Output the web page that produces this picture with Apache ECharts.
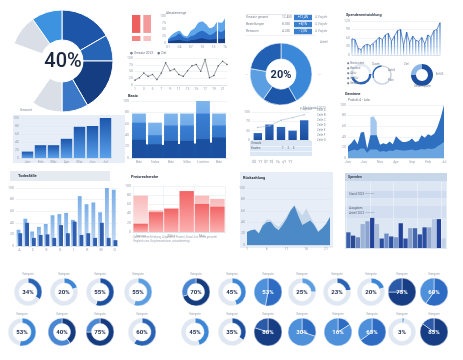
<!DOCTYPE html>
<html>
<head>
<meta charset="utf-8">
<script src="https://cdn.jsdelivr.net/npm/echarts@6/dist/echarts.min.js"></script>
<style>
  html, body { margin: 0; padding: 0; background: #fff; }
  #chart { width: 463px; height: 360px; }
</style>
</head>
<body>
<div id="chart"></div>
<script>
const FONT = 'Roboto, "Noto Sans", "DejaVu Sans", sans-serif';

// Big donut: slice sizes clockwise from 12 o'clock (6th slice is the empty gap)
const bigDonutParts = [60, 30, 60, 30, 35, 75, 35, 35];
const bigDonutText = '40%';

// Red tiles
const tileNames = ['✓', '4', ' ', '  '];
const tileValues = [34, 36, 13, 14];

// Small area chart, top middle
const areaTopCats = ['01', '02', '03', '04', '05', '06', '07', '08', '09', '10', '11', '12', '13', '14', '15', '16'];
const areaTopBack = [15, 30, 40, 45, 30, 25, 45, 55, 75, 80, 70, 55, 60, 78, 75, 92];
const areaTopMid = [10, 20, 25, 35, 22, 18, 25, 30, 40, 45, 38, 30, 35, 45, 40, 50];
const areaTopFront = [5, 8, 10, 12, 8, 6, 10, 12, 15, 18, 14, 12, 14, 16, 15, 18];

// Zigzag line chart
const lineCats = ['1', '2', '3', '4', '5', '6', '7', '8', '9', '10', '11', '12', '13', '14', '15', '16', '17', '18', '19', '20', '21', '22'];
const lineValues = [18, 27, 44, 32, 39, 20, 44, 82, 53, 59, 39, 32, 53, 71, 76, 51, 94, 27, 35, 71, 88, 76];

// "Basic" layered bars
const basicCats = ['Bdc', 'Sidcs', 'Bdc', 'Silbc', 'Linclerc', 'Bdc'];
const basicLight = [78, 62, 78, 78, 100, 78];
const basicMid = [62, 40, 57, 57, 78, 57];
const basicDark = [32, 24, 30, 30, 33, 36];
const basicFloor = [26, 22, 24, 25, 26, 28];

// Small table with badges
const tableRows = ['Umsatz gesamt', 'Bestellungen', 'Retouren'];
const tableBadge = [100, 100, 100];
const tableBadgeText = ['+12,4%', '+8,1%', '−2,3%'];

// Donut 20%
const donut20Parts = [150, 65, 65, 80];
const donut20Text = '20%';

// Bars + trend line
const finCats = ['Q1', 'Q2', 'Q3', 'Q4', 'Q5'];
const finBars = [26, 58, 49, 35, 74];
const finLine = [47, 53, 74, 84, 95];

// Spiky line, top right
const spikeCats = ['1', '2', '3', '4', '5', '6', '7', '8', '9', '10', '11', '12', '13', '14', '15', '16', '17', '18', '19', '20', '21', '22', '23', '24', '25', '26', '27', '28', '29', '30'];
const spikeValues = [57, 54, 24, 19, 33, 38, 33, 41, 52, 62, 54, 71, 76, 48, 67, 86, 90, 33, 81, 43, 67, 52, 48, 62, 38, 71, 62, 86, 90, 114];

// Three ring gauges
const gaugeValues = [45, 30, 75];

// Growth area chart, right
const growthCats = ['Jan', 'Feb', 'Mär', 'Apr', 'Mai', 'Jun', 'Jul', 'Aug', 'Sep', 'Okt', 'Nov', 'Dez', 'Jan', 'Feb', 'Mär', 'Apr', 'Mai', 'Jun', 'Jul', 'Aug', 'Sep', 'Okt', 'Nov', 'Dez', 'Jan', 'Feb', 'Mär', 'Apr', 'Mai', 'Jun', 'Jul'];
const growthDark = [22, 28, 36, 26, 48, 49, 18, 43, 43, 43, 25, 28, 26, 31, 26, 41, 35, 30, 30, 32, 37, 30, 32, 43, 38, 45, 42, 46, 59, 77, 100];
const growthSpike = [null, null, null, null, null, null, null, 77, 79, 68, null, null, null, null, null, null, null, null, null, null, null, null, null, null, null, null, null, null, null, null, null];
const growthBase = [12, 14, 16, 14, 18, 18, 10, 16, 16, 16, 12, 13, 12, 14, 13, 16, 15, 14, 14, 15, 16, 14, 15, 17, 16, 18, 17, 18, 22, 26, 30];

// Rising bars
const growCats = ['Jan', 'Feb', 'Mär', 'Apr', 'Mai', 'Jun', 'Jul'];
const growBars = [16, 32, 32, 48, 78, 80, 100];

// Mixed bars
const mixCats = ['A', 'B', 'C', 'D', 'E', 'F', 'G', 'H', 'I', 'J', 'K', 'L', 'M', 'N', 'O'];
const mixBack = [28, 47, 25, 33, 38, 53, 55, 57, 45, 86, 72, 75, 58, 100, 97];
const mixFront = [22, 40, 14, 19, 20, 14, 36, 22, 42, 19, 22, 14, 40, 14, 10];

// Red bars
const redCats = ['Januar', 'Februar', 'März', 'April', 'Mai', 'Juni'];
const redBars = [18, 43, 51, 89, 61, 55];
const redBack = [79, 47, 0, 0, 79, 72];

// Area chart on pale panel
const mCats = ['1', '2', '3', '4', '5', '6', '7', '8', '9', '10', '11', '12', '13', '14', '15', '16', '17', '18', '19', '20', '21', '22'];
const mDark = [23, 26, 27, 20, 34, 40, 41, 31, 26, 35, 46, 60, 69, 51, 35, 39, 43, 35, 23, 29, 37, 49];
const mLight = [23, 26, 27, 22, 36, 45, 44, 36, 32, 40, 50, 62, 70, 60, 52, 64, 50, 38, 25, 30, 38, 50];

// Bars on banded panel
const nCats = ['1', '2', '3', '4', '5', '6', '7', '8', '9', '10', '11', '12', '13', '14', '15', '16', '17', '18', '19', '20', '21'];
const nValues = [38, 30, 26, 58, 65, 73, 58, 23, 35, 28, 26, 60, 23, 48, 48, 33, 50, 50, 70, 70, 23];

// Bottom donut rows
const donutRow1 = [34, 20, 55, 55, 70, 45, 53, 25, 23, 20, 75, 60];
const donutRow2 = [53, 40, 75, 60, 45, 35, 80, 30, 16, 65, 3, 85];

// ---------------------------------------------------------------
const chart = echarts.init(document.getElementById('chart'));
const grids = [], xAxis = [], yAxis = [], series = [], graphics = [];

const tiny = { fontSize: 3.5, color: '#98a1b0', margin: 2, fontFamily: FONT };

function cat(data, o) {
    return Object.assign({
        type: 'category', data: data,
        axisTick: { show: false },
        axisLine: { lineStyle: { color: '#cfd6e0', width: 0.6 } },
        axisLabel: tiny
    }, o || {});
}

function val(o) {
    return Object.assign({
        type: 'value',
        axisLabel: tiny,
        axisLine: { show: false },
        axisTick: { show: false },
        splitLine: { lineStyle: { color: '#e3e8ef', width: 0.5 } }
    }, o || {});
}

function addGrid(box, x, y) {
    const i = grids.length;
    grids.push(Object.assign({ containLabel: false, outerBoundsMode: 'none' }, box));
    xAxis.push(Object.assign({ gridIndex: i }, x));
    yAxis.push(Object.assign({ gridIndex: i }, y));
    return i;
}

function txt(x, y, s, size, color, weight, align) {
    graphics.push({
        type: 'text', x: x, y: y, z: 100, silent: true,
        style: {
            text: s, fill: color || '#7d8695',
            font: (weight || 'normal') + ' ' + size + 'px ' + FONT,
            textAlign: align || 'left', textVerticalAlign: 'middle', verticalAlign: 'middle'
        }
    });
}

function rect(x, y, w, h, color) {
    graphics.push({ type: 'rect', x: x, y: y, z: -10, silent: true, shape: { width: w, height: h }, style: { fill: color } });
}

function vgrad(top, bottom) {
    return { type: 'linear', x: 0, y: 0, x2: 0, y2: 1, colorStops: [{ offset: 0, color: top }, { offset: 1, color: bottom }] };
}

function ring(center, radius, parts, colors, startAngle, border) {
    series.push({
        type: 'pie', center: center, radius: radius, startAngle: startAngle, silent: true,
        label: { show: false }, labelLine: { show: false },
        itemStyle: { borderColor: '#fff', borderWidth: border || 0 },
        data: parts.map((v, i) => ({ value: v, itemStyle: { color: colors[i] } }))
    });
}

// ---- big donut
ring([62, 61], [21, 51], bigDonutParts,
    ['#1d55a8', '#2664b6', '#153d82', '#3b78c8', '#d9dee7', 'rgba(0,0,0,0)', '#d9dee7', '#3d93e0'], 90, 1);
txt(63, 62, bigDonutText, 20, '#1b2740', '500', 'center');
txt(20, 110, 'Gesamt', 3.5, '#8a93a2');

// ---- red tiles
series.push({
    type: 'treemap', left: 130, top: 13, width: 23, height: 30, roam: false, nodeClick: false, silent: true,
    breadcrumb: { show: false },
    itemStyle: { borderColor: '#fff', borderWidth: 1, gapWidth: 1 },
    label: { show: true, color: '#fff', fontSize: 7, fontWeight: 'bold', formatter: '{b}' },
    data: tileValues.map((v, i) => ({ name: tileNames[i], value: v, itemStyle: { color: ['#f49a9a', '#ee5f5f', '#f8c2c2', '#f38484'][i] } }))
});

// ---- small area chart top middle
let g = addGrid({ left: 168, top: 16, width: 57, height: 27 },
    cat(areaTopCats, { boundaryGap: false, axisLabel: Object.assign({}, tiny, { interval: 2 }) }),
    val({ max: 100, interval: 25, splitLine: { show: false } }));
[[areaTopBack, '#5ea5ea'], [areaTopMid, '#2b6cc4'], [areaTopFront, '#163f88']].forEach(([d, c], k) => {
    series.push({
        type: 'line', xAxisIndex: g, yAxisIndex: g, data: d, showSymbol: false, smooth: 0.3, silent: true,
        lineStyle: { width: 0 }, areaStyle: { color: c, opacity: 1 },
        markLine: k === 0 ? { silent: true, symbol: 'none', label: { show: false }, lineStyle: { color: '#fff', width: 1.2, type: 'solid' }, data: [{ xAxis: 13 }] } : undefined
    });
});
txt(166, 13, 'Absatzmenge', 3.3, '#6f7888');

// ---- zigzag line
g = addGrid({ left: 135, top: 58, width: 92, height: 27 },
    cat(lineCats, { boundaryGap: false }),
    val({ max: 100, interval: 25 }));
series.push({
    type: 'line', xAxisIndex: g, yAxisIndex: g, data: lineValues, silent: true,
    symbol: 'circle', symbolSize: 1.6, lineStyle: { color: '#5a606b', width: 0.6 }, itemStyle: { color: '#5a606b' }
});
txt(130, 53, '● Umsatz 2023     ● Ziel', 3.3, '#6f7888');

// ---- "Basic" bars
g = addGrid({ left: 131, top: 101, width: 96, height: 57 },
    cat(basicCats),
    val({ max: 100, interval: 20 }));
series.push({
    type: 'line', xAxisIndex: g, yAxisIndex: g, data: basicFloor, showSymbol: false, silent: true, z: 1,
    lineStyle: { width: 0 }, areaStyle: { color: '#1d52a2', opacity: 1 }
});
[[basicLight, vgrad('#7db4ec', '#4f8fda')], [basicMid, vgrad('#3a7fd2', '#2a66b8')], [basicDark, '#1b4f9f']].forEach(([d, c]) => {
    series.push({ type: 'bar', xAxisIndex: g, yAxisIndex: g, data: d, barGap: '-100%', barCategoryGap: '14%', silent: true, itemStyle: { color: c } });
});
txt(128, 96, 'Basic', 4, '#2d3442', 'bold');

// ---- table with badges
g = addGrid({ left: 294, top: 14, width: 18, height: 21 },
    val({ max: 100, show: false }),
    cat(tableRows, { inverse: true, show: false }));
series.push({
    type: 'bar', xAxisIndex: g, yAxisIndex: g, data: tableBadge, barCategoryGap: '22%', silent: true,
    itemStyle: { color: '#3a7ed0' },
    label: { show: true, position: 'inside', color: '#fff', fontSize: 3.2, fontFamily: FONT, formatter: p => tableBadgeText[p.dataIndex] }
});
tableRows.forEach((r, i) => {
    txt(246, 17.5 + i * 7, r, 3.2, '#7d8695');
    txt(282, 17.5 + i * 7, (12450 - i * 4100).toLocaleString('de-DE'), 3.2, '#7d8695');
    txt(315, 17.5 + i * 7, 'Δ Vorjahr', 3, '#8f97a5');
});
rect(246, 14.5, 46, 0.5, '#c7cfda');
rect(246, 35, 70, 0.5, '#dfe4ea');

// ---- donut 20%
ring([281, 74], [15, 31], donut20Parts, ['#3c88d8', '#1d57aa', '#5b9fe2', '#2260b4'], 90, 0.6);
txt(281, 75, donut20Text, 11, '#1b2d52', 'bold', 'center');
txt(245, 75, '—', 4, '#b0b8c4');
txt(318, 75, '—', 4, '#b0b8c4');
txt(303, 108, 'Marktanteil 2023', 3, '#8a93a2');
txt(320, 42, 'Anteil', 3, '#8a93a2');

// ---- bars + trend line
g = addGrid({ left: 252, top: 112, width: 58, height: 28 },
    cat(finCats, { axisLabel: { show: false } }),
    val({ max: 105, interval: 35 }));
series.push({ type: 'bar', xAxisIndex: g, yAxisIndex: g, data: finBars, barWidth: '72%', silent: true, itemStyle: { color: vgrad('#2d67bc', '#1b4d9d') } });
series.push({
    type: 'line', xAxisIndex: g, yAxisIndex: g, data: finLine, silent: true, symbol: 'circle', symbolSize: 1.4,
    lineStyle: { color: '#a9b8cc', width: 0.6 }, itemStyle: { color: '#a9b8cc' }
});
rect(250, 141, 62, 15, '#dbe7f5');
rect(250, 146, 62, 0.5, '#ffffff');
rect(250, 151, 62, 0.5, '#ffffff');
txt(251, 143.5, 'Umsatz', 3, '#5d6675');
txt(251, 148.5, 'Kosten', 3, '#5d6675');
txt(282, 148.5, '1     2     3', 3, '#5d6675');
txt(252, 162, '$$   ¥¥  $¥  ¥$   ¥¢   ¢¥   ¥¥', 3.5, '#8b94a3');
['Zeile A', 'Zeile B', 'Zeile C', 'Zeile D', 'Zeile E', 'Zeile F', 'Zeile G'].forEach((s, i) => txt(317, 110 + i * 5, s, 2.8, '#8a93a2'));
txt(300, 109, 'Prognose ————', 2.8, '#8a93a2');

// ---- spiky line top right
g = addGrid({ left: 352, top: 21, width: 88, height: 34 },
    cat(spikeCats, { boundaryGap: false, axisLabel: { show: false } }),
    val({ max: 120, interval: 30 }));
series.push({ type: 'bar', xAxisIndex: g, yAxisIndex: g, data: spikeValues, barWidth: 1.2, silent: true, itemStyle: { color: vgrad('#3b76c6', '#d6e4f5') } });
series.push({ type: 'line', xAxisIndex: g, yAxisIndex: g, data: spikeValues, showSymbol: false, silent: true, lineStyle: { color: '#2b5fae', width: 0.7 } });
txt(346, 15, 'Spendenentwicklung', 3.8, '#3a4352', 'bold');

// ---- three gauges
ring([361, 74], [8, 10.5], [gaugeValues[0], 100 - gaugeValues[0]], ['#2a63b3', '#e3e9f2'], 0);
ring([382, 75], [8.3, 9.8], [gaugeValues[1], 100 - gaugeValues[1]], ['#2a63b3', '#c9d3e1'], 200);
ring([422, 75], [6, 11], [gaugeValues[2], 100 - gaugeValues[2]], ['#1c4f9f', '#8db5e6'], 90);
['● Neukunden', '● Bestand', '● Aktiv', '● Inaktiv', '● Gesamt'].forEach((s, i) => txt(347, 63 + i * 5, s, 2.8, '#7d8695'));
txt(372, 64, 'Quote', 2.8, '#7d8695');
txt(388, 70, 'Anteil', 2.8, '#7d8695');
txt(388, 80, 'Plan', 2.8, '#7d8695');
txt(404, 64, 'Ziel', 2.8, '#7d8695');
txt(436, 74, 'Erfüllt', 2.8, '#7d8695');
txt(414, 86, 'Gesamtquote', 2.8, '#7d8695');

// ---- growth area chart right
g = addGrid({ left: 348, top: 105, width: 96, height: 53 },
    cat(growthCats, { boundaryGap: false, axisLabel: Object.assign({}, tiny, { interval: 4 }) }),
    val({ max: 100, interval: 20 }));
[[growthSpike, '#a4c7ee'], [growthDark, '#2e6fc0'], [growthBase, '#6aa5e0']].forEach(([d, c]) => {
    series.push({
        type: 'line', xAxisIndex: g, yAxisIndex: g, data: d, showSymbol: false, silent: true,
        lineStyle: { width: 0 }, areaStyle: { color: c, opacity: 1 }
    });
});
txt(345, 94, 'Gewinne', 4, '#2d3442', 'bold');
txt(348, 100, 'Produkt A • Lohn', 3, '#6f7888');

// ---- rising bars
rect(13, 115, 112, 48, '#e7eef8');
g = addGrid({ left: 21, top: 118, width: 91, height: 40 },
    cat(growCats),
    val({ max: 100, interval: 20 }));
series.push({ type: 'bar', xAxisIndex: g, yAxisIndex: g, data: growBars, barCategoryGap: '12%', silent: true, itemStyle: { color: vgrad('#1c56ac', '#5aa0ea') } });

// ---- mixed bars
rect(10, 171, 100, 10, '#e6ebf2');
txt(18, 176, 'Todesfälle', 4, '#2d3442', 'bold');
g = addGrid({ left: 16, top: 188, width: 102, height: 58 },
    cat(mixCats),
    val({ max: 100, interval: 20 }));
series.push({ type: 'bar', xAxisIndex: g, yAxisIndex: g, data: mixBack, barGap: '-55%', barCategoryGap: '18%', silent: true, itemStyle: { color: vgrad('#7aaee8', '#c6dbf4') } });
series.push({ type: 'bar', xAxisIndex: g, yAxisIndex: g, data: mixFront, silent: true, itemStyle: { color: '#2f5fae' } });

// ---- red bars
txt(131, 177, 'Preisrecherche', 4, '#2d3442', 'bold');
g = addGrid({ left: 133, top: 186, width: 92, height: 46 },
    cat(redCats, { splitLine: { show: true, lineStyle: { color: '#e6e9ee', width: 0.5 } } }),
    val({ max: 100, interval: 20 }));
series.push({ type: 'bar', xAxisIndex: g, yAxisIndex: g, data: redBack, barGap: '-100%', barCategoryGap: '6%', silent: true, itemStyle: { color: vgrad('#f9b9b9', '#fdeeee') } });
series.push({ type: 'bar', xAxisIndex: g, yAxisIndex: g, data: redBars, silent: true, itemStyle: { color: vgrad('#f26464', '#fbb0b0') } });
txt(133, 237, 'Quelle: interne Erhebung, Angaben in Prozent, Stand Juni; Werte gerundet', 2.6, '#a0a7b2');
txt(133, 241, 'Vergleich zum Vorjahreszeitraum, saisonbereinigt', 2.6, '#a0a7b2');

// ---- area chart on pale panel
rect(240, 172, 93, 76, '#e8eef7');
txt(243, 178, 'Rückzahlung', 3.8, '#2d3442', 'bold');
g = addGrid({ left: 247, top: 188, width: 83, height: 57 },
    cat(mCats, { boundaryGap: false, axisLabel: Object.assign({}, tiny, { interval: 4 }) }),
    val({ max: 100, interval: 20, splitLine: { lineStyle: { color: '#d9e2ee', width: 0.5 } } }));
[[mLight, '#c6d7ea'], [mDark, '#4b8ac6']].forEach(([d, c]) => {
    series.push({ type: 'line', xAxisIndex: g, yAxisIndex: g, data: d, showSymbol: false, silent: true, lineStyle: { width: 0 }, areaStyle: { color: c, opacity: 1 } });
});

// ---- bars on banded panel
rect(345, 173, 102, 76, '#dde6f3');
rect(345, 173, 102, 8, '#c8d6ea');
rect(345, 191, 102, 7, '#cfdbee');
rect(345, 206, 102, 12, '#d3def0');
txt(348, 177, 'Spenden', 3.5, '#3a4352', 'bold');
txt(349, 194.5, 'Stand 2023 ————', 3, '#5d6675');
txt(349, 208, 'Ausgaben', 3, '#5d6675');
txt(349, 213, 'Anteil 2023 ————', 3, '#5d6675');
g = addGrid({ left: 346, top: 182, width: 100, height: 66 },
    cat(nCats, { axisLine: { show: false }, axisLabel: { show: false }, splitLine: { show: true, interval: 4, lineStyle: { color: '#eef3fa', width: 0.6 } } }),
    val({ max: 160, show: false }));
const nColors = ['#3b5fa8', '#2c4a96', '#6a88bf', '#9cb3d6', '#8aa4cf', '#23439a', '#aabbd9', '#2a4ea0', '#6f8cc4', '#2a4ea0', '#7b96c9',
    '#22419a', '#2a4ea0', '#8aa0cc', '#4566ad', '#2a4ea0', '#2a4ea0', '#8fa6cf', '#b5c6e2', '#22419a', '#c2d0e6'];
series.push({
    type: 'bar', xAxisIndex: g, yAxisIndex: g, barCategoryGap: '10%', silent: true,
    data: nValues.map((v, i) => ({ value: v, itemStyle: { color: nColors[i] } }))
});

// ---- bottom donut rows
const rowX1 = [28, 64, 100, 138, 196, 232, 268, 302, 337, 371, 402, 434];
const rowX2 = [22, 62, 100, 142, 195, 232, 268, 302, 338, 372, 402, 434];
// r = light ring, d = navy ring, s = solid disc, n = navy solid disc
const rowStyle1 = ['r', 'r', 'r', 'r', 'd', 'r', 's', 'r', 'r', 'r', 'n', 's'];
const rowStyle2 = ['r', 'd', 'd', 'r', 'r', 'r', 'n', 's', 's', 's', 'r', 'n'];
const ringColors = ['#2a63b3', '#3d86d6', '#1d4f9f', '#5c9de0'];
[[donutRow1, rowX1, rowStyle1, 292], [donutRow2, rowX2, rowStyle2, 332]].forEach(([vals, xs, st, y], r) => {
    vals.forEach((v, i) => {
        const s = st[i];
        if (s === 'r') {
            ring([xs[i], y], [9, 14], [v, 100 - v], [ringColors[(i + r) % 4], '#dfe7f2'], 90, 0.5);
        } else if (s === 'd') {
            ring([xs[i], y], [8.5, 14], [v, 100 - v], ['#163c80', '#4a86d2'], 90, 0.5);
        } else if (s === 's') {
            ring([xs[i], y], [0, 14], [v, 100 - v], ['#2d6cc2', '#4f90da'], 90, 0.5);
        } else {
            ring([xs[i], y], [0, 14], [v, 100 - v], ['#173e84', '#2a5aa8'], 90, 0.5);
        }
        const light = s === 's' || s === 'n';
        txt(xs[i], y + 0.5, v + '%', 6, light ? '#ffffff' : '#1b2d52', 'bold', 'center');
        txt(xs[i], y - 18, 'Kategorie', 2.6, '#9aa2ae', 'normal', 'center');
    });
});

chart.setOption({
    animation: false,
    textStyle: { fontFamily: FONT },
    grid: grids,
    xAxis: xAxis,
    yAxis: yAxis,
    series: series,
    graphic: { elements: graphics }
});
</script>
</body>
</html>
